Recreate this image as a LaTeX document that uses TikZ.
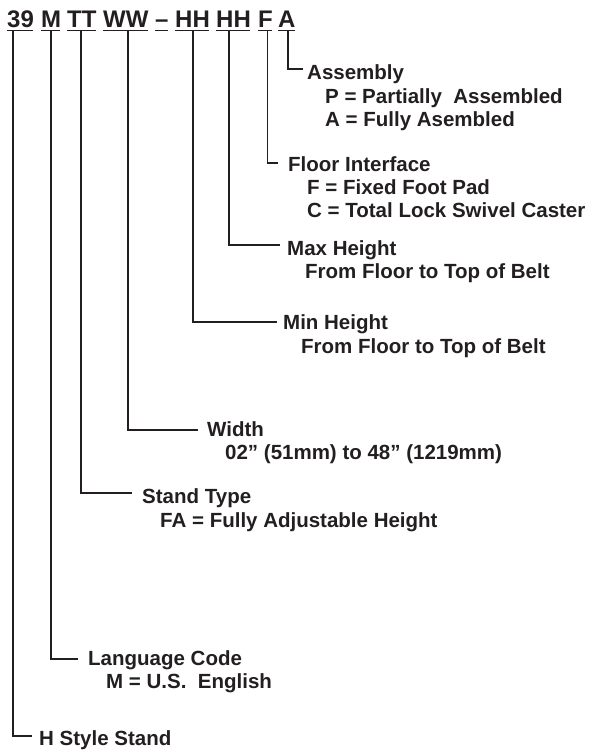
\documentclass[tikz,border=0pt]{standalone}
\usepackage{fontspec}
\setmainfont{Liberation Sans}
\definecolor{ink}{HTML}{231F20}
\begin{document}
\begin{tikzpicture}[x=1pt,y=-1pt,
  tok/.style={font=\fontsize{24}{28}\selectfont\bfseries, text=ink, inner sep=0pt, anchor=base west},
  ttl/.style={font=\fontsize{20.5}{23}\selectfont\bfseries, text=ink, inner sep=0pt, anchor=base west},
  conn/.style={draw=ink, line width=1.2pt},
  uline/.style={draw=ink, line width=1.7pt}]
\useasboundingbox (0,0) rectangle (590,752);
% code tokens
\node[tok] (t39) at (7,28) {39};
\node[tok] (tM) at (41,28) {M};
\node[tok] (tT) at (67,28) {TT};
\node[tok] (tW) at (103,28) {WW};
\node[tok] (tD) at (155,28) {–};
\node[tok] (tH1) at (175,28) {HH};
\node[tok] (tH2) at (216,28) {HH};
\node[tok] (tF) at (258,28) {F};
\node[tok] (tA) at (278,28) {A};
\foreach \t in {t39,tM,tT,tW,tD,tH1,tH2,tF,tA}
  \draw[uline] ([yshift=-2.6pt]\t.base west) -- ([yshift=-2.6pt,xshift=-1.2pt]\t.base east);
% connector ends
\coordinate (eA) at (303,69);
\coordinate (eF) at (278,163);
\coordinate (eH2) at (280,245);
\coordinate (eH1) at (277,322);
\coordinate (eW) at (198,430);
\coordinate (eT) at (132,493);
\coordinate (eM) at (78,659);
\coordinate (e39) at (32,736);
% labels
\node[ttl] (lA) at (307,80) {Assembly};
\node[ttl] (lA1) at (325,103) {P = Partially \ Assembled};
\node[ttl] (lA2) at (325,126) {A = Fully Asembled};
\node[ttl] (lF) at (288,171) {Floor Interface};
\node[ttl] (lF1) at (307,194) {F = Fixed Foot Pad};
\node[ttl] (lF2) at (307,217) {C = Total Lock Swivel Caster};
\node[ttl] (lH2) at (287,255) {Max Height};
\node[ttl] (lH21) at (305,278) {From Floor to Top of Belt};
\node[ttl] (lH1) at (283,329) {Min Height};
\node[ttl] (lH11) at (301,353) {From Floor to Top of Belt};
\node[ttl] (lW) at (207,436) {Width};
\node[ttl] (lW1) at (225,459) {02” (51mm) to 48” (1219mm)};
\node[ttl] (lT) at (142,503) {Stand Type};
\node[ttl] (lT1) at (160,527) {FA = Fully Adjustable Height};
\node[ttl] (lM) at (88,665) {Language Code};
\node[ttl] (lM1) at (106,688) {M = U.S. \ English};
\node[ttl] (l39) at (39,745) {H Style Stand};
% connectors
\draw[conn] ([xshift=10pt,yshift=-3.5pt]tA.base west) |- (eA);
\draw[conn] ([xshift=9.5pt,yshift=-3.5pt]tF.base west) |- (eF);
\draw[conn] ([xshift=13pt,yshift=-3.5pt]tH2.base west) |- (eH2);
\draw[conn] ([xshift=18pt,yshift=-3.5pt]tH1.base west) |- (eH1);
\draw[conn] ([xshift=25pt,yshift=-3.5pt]tW.base west) |- (eW);
\draw[conn] ([xshift=14pt,yshift=-3.5pt]tT.base west) |- (eT);
\draw[conn] ([xshift=10pt,yshift=-3.5pt]tM.base west) |- (eM);
\draw[conn] ([xshift=6pt,yshift=-3.5pt]t39.base west) |- (e39);
\end{tikzpicture}
\end{document}
